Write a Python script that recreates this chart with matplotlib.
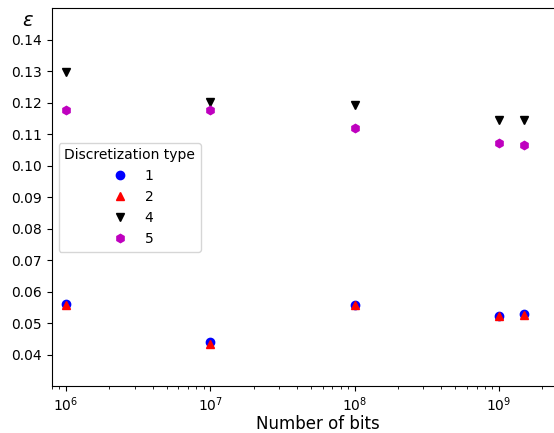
import numpy as np
import matplotlib
matplotlib.use("Agg")
import matplotlib.pyplot as plt

bits = [1e6, 1e7, 1e8, 1e9, 1.5e9]

# epsilon per discretization type
eps_1 = [0.0561, 0.0439, 0.0559, 0.0524, 0.0529]
eps_2 = [0.0558, 0.0435, 0.0556, 0.0521, 0.0526]
eps_4 = [0.1299, 0.1203, 0.1192, 0.1144, 0.1144]
eps_5 = [0.1177, 0.1177, 0.1121, 0.1072, 0.1067]

fig = plt.figure(figsize=(5.54, 4.33), dpi=100)
# axes run past the right edge, like the cropped original
ax = fig.add_axes([0.0933, 0.1085, 0.96, 0.872])

ax.plot(bits, eps_1, 'o', color='b', label='1')
ax.plot(bits, eps_2, '^', color='r', label='2')
ax.plot(bits, eps_4, 'v', color='k', label='4')
ax.plot(bits, eps_5, 'h', color='m', label='5')

ax.set_xscale('log')
ax.set_xlim(8e5, 3.85e9)
ax.set_ylim(0.03, 0.15)
ax.set_yticks(np.arange(0.04, 0.145, 0.01))
ax.set_yticklabels(['%.2f' % v for v in np.arange(0.04, 0.145, 0.01)])

ax.set_xlabel('Number of bits', fontsize=12, labelpad=0.5)
ax.set_ylabel(r'$\epsilon$', fontsize=14, rotation=0, ha='center', va='center')
ax.yaxis.set_label_coords(-0.045, 0.969)

ax.legend(title='Discretization type', loc='center left')

plt.savefig('out.png', dpi=100)
